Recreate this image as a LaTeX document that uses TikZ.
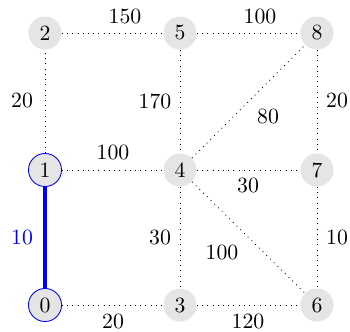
\documentclass[tikz,border=0pt]{standalone}
\begin{document}
\begin{tikzpicture}[x=0.46pt,y=-0.46pt,
  vert/.style={circle,fill=gray!20,inner sep=0pt,minimum size=15.2pt},
  hl/.style={draw=blue},
  edge/.style={dotted,thin},
  tree/.style={blue,line width=1.9pt},
  lbl/.style={inner sep=0pt}]
\useasboundingbox (0,0) rectangle (350,332);
\node[vert,hl] (n0) at (45,305) {0};
\node[vert,hl] (n1) at (45,170) {1};
\node[vert] (n2) at (45,33) {2};
\node[vert] (n3) at (180,305) {3};
\node[vert] (n4) at (180,170) {4};
\node[vert] (n5) at (180,33) {5};
\node[vert] (n6) at (317,305) {6};
\node[vert] (n7) at (317,170) {7};
\node[vert] (n8) at (317,33) {8};
\draw[tree] (n0) -- (n1);
\draw[edge] (n1) -- (n2);
\draw[edge] (n2) -- (n5);
\draw[edge] (n5) -- (n8);
\draw[edge] (n5) -- (n4);
\draw[edge] (n4) -- (n8);
\draw[edge] (n8) -- (n7);
\draw[edge] (n1) -- (n4);
\draw[edge] (n4) -- (n7);
\draw[edge] (n4) -- (n3);
\draw[edge] (n4) -- (n6);
\draw[edge] (n7) -- (n6);
\draw[edge] (n0) -- (n3);
\draw[edge] (n3) -- (n6);
\node[lbl] (l25) at (125,17) {150};
\node[lbl] (l58) at (260,17) {100};
\node[lbl] (l12) at (22,101) {20};
\node[lbl] (l45) at (155,101) {170};
\node[lbl] (l48) at (268,117) {80};
\node[lbl] (l78) at (337,101) {20};
\node[lbl] (l14) at (113,153) {100};
\node[lbl] (l47) at (248,186) {30};
\node[lbl,blue] (l01) at (22,237) {10};
\node[lbl] (l34) at (160,237) {30};
\node[lbl] (l46) at (222,253) {100};
\node[lbl] (l67) at (337,237) {10};
\node[lbl] (l03) at (113,321) {20};
\node[lbl] (l36) at (248,321) {120};
\end{tikzpicture}
\end{document}
